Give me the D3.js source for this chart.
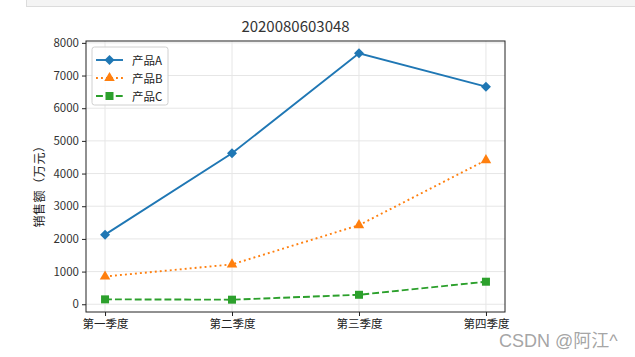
<!DOCTYPE html>
<html><head><meta charset="utf-8">
<script src="https://cdn.jsdelivr.net/npm/d3@7"></script>
<style>
body{margin:0;background:#fff;}
svg{display:block;}
</style></head>
<body><svg id="c" width="635" height="357"></svg>
<script>
const title = "2020080603048";
const categories = ["第一季度","第二季度","第三季度","第四季度"];
const seriesNames = ["产品A","产品B","产品C"];
const productA = [2130, 4620, 7680, 6660];
const productB = [850, 1220, 2420, 4410];
const productC = [150, 140, 290, 690];
const yTicks = [0,1000,2000,3000,4000,5000,6000,7000,8000];
const yLabel = "销售额（万元）";
const watermark = "CSDN @阿江^";

const colors = ["#1f77b4","#ff7f0e","#2ca02c"];
const dashes = [null, "1.9,3.1", "6.9,3"];
const shapes = [d3.symbolSquare, d3.symbolTriangle, d3.symbolSquare];
const sizes = [50, 48, 64];
const rots = [45, 0, 0];
const series = [productA, productB, productC];

const svg = d3.select("#c");
const L=86, R=505, T=41, B=312;
const cjk = "'Noto Sans CJK SC', sans-serif";
const num = "'Liberation Sans Narrow', 'Noto Sans CJK SC', sans-serif";

// screenshot artifact bar at top
svg.append("rect").attr("x",26.5).attr("y",-1).attr("width",620).attr("height",7.5)
  .attr("fill","#f4f4f4").attr("stroke","#dcdcdc");

const all = series.flat();
const mn = d3.min(all), mx = d3.max(all), m = (mx-mn)*0.05;
const x = d3.scaleLinear().domain([-0.15, categories.length-1+0.15]).range([L,R]);
const y = d3.scaleLinear().domain([mn-m, mx+m]).range([B,T]);

// grid
const g = svg.append("g");
g.selectAll(".gy").data(yTicks).enter().append("line")
  .attr("x1",L).attr("x2",R).attr("y1",d=>y(d)).attr("y2",d=>y(d))
  .attr("stroke","#e6e6e6").attr("stroke-width",1);
g.selectAll(".gx").data(categories).enter().append("line")
  .attr("x1",(d,i)=>x(i)).attr("x2",(d,i)=>x(i)).attr("y1",T).attr("y2",B)
  .attr("stroke","#e6e6e6").attr("stroke-width",1);

// axes
const yAxis = d3.axisLeft(y).tickValues(yTicks).tickSize(4).tickPadding(3).tickFormat(d3.format("d"));
const ya = svg.append("g").attr("transform",`translate(${L},0)`).call(yAxis);
ya.select(".domain").remove();
ya.selectAll("text").attr("font-family",num).attr("font-size",11.5).attr("fill","#333");
ya.selectAll("line").attr("stroke","#222");

const xAxis = d3.axisBottom(x).tickValues(d3.range(categories.length)).tickFormat(i=>categories[i]).tickSize(4).tickPadding(4);
const xa = svg.append("g").attr("transform",`translate(0,${B})`).call(xAxis);
xa.select(".domain").remove();
xa.selectAll("text").attr("font-family",cjk).attr("font-size",11.5).attr("fill","#222");
xa.selectAll("line").attr("stroke","#222");

svg.append("rect").attr("x",L).attr("y",T).attr("width",R-L).attr("height",B-T)
  .attr("fill","none").attr("stroke","#222").attr("stroke-width",1);

// lines
const line = d3.line().x((d,i)=>x(i)).y(d=>y(d));
series.forEach((s,k)=>{
  svg.append("path").datum(s).attr("d",line).attr("fill","none")
    .attr("stroke",colors[k]).attr("stroke-width",1.9)
    .attr("stroke-dasharray",dashes[k]);
  svg.selectAll(".m"+k).data(s).enter().append("path")
    .attr("d",d3.symbol().type(shapes[k]).size(sizes[k]))
    .attr("transform",(d,i)=>`translate(${x(i)},${y(d)}) rotate(${rots[k]})`)
    .attr("fill",colors[k]);
});

// title
svg.append("text").attr("x",(L+R)/2).attr("y",32).attr("text-anchor","middle")
  .attr("font-family",num).attr("font-size",15).attr("fill","#333").text(title);

// y label
svg.append("text").attr("transform",`translate(44,${(T+B)/2+7}) rotate(-90)`)
  .attr("text-anchor","middle").attr("font-family",cjk).attr("font-size",12).attr("fill","#222")
  .attr("letter-spacing",0.6).text(yLabel);

// legend
const lg = svg.append("g");
lg.append("rect").attr("x",92).attr("y",47).attr("width",76).attr("height",58).attr("rx",2.5)
  .attr("fill","#fff").attr("fill-opacity",0.85).attr("stroke","#d0d0d0");
const rows = [60, 78, 96];
seriesNames.forEach((n,k)=>{
  lg.append("line").attr("x1",96).attr("x2",123).attr("y1",rows[k]).attr("y2",rows[k])
    .attr("stroke",colors[k]).attr("stroke-width",1.9).attr("stroke-dasharray",dashes[k]);
  lg.append("path").attr("d",d3.symbol().type(shapes[k]).size(sizes[k]))
    .attr("transform",`translate(109.5,${rows[k]}) rotate(${rots[k]})`).attr("fill",colors[k]);
  lg.append("text").attr("x",132).attr("y",rows[k]+4.5).attr("font-family",cjk)
    .attr("font-size",11.5).attr("fill","#222").text(n);
});

// watermark
svg.append("text").attr("x",499).attr("y",347).attr("font-family","'Liberation Sans', 'Noto Sans CJK SC', sans-serif")
  .attr("font-size",18).attr("fill","#9a9a9a").attr("fill-opacity",0.9).text(watermark);
</script></body></html>
